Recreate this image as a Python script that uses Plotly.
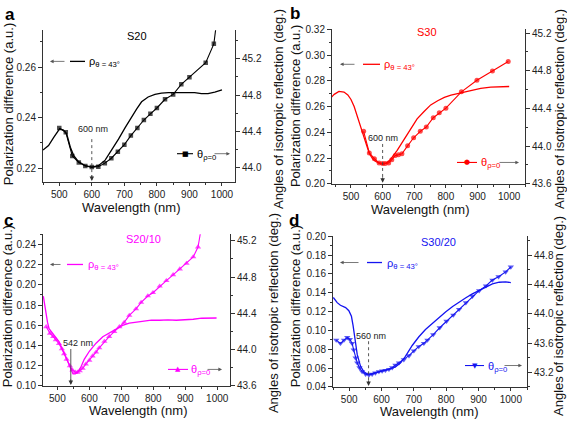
import plotly.graph_objects as go

W, H = 567, 424
FONT = "Arial, Liberation Sans, sans-serif"

# ---------------- data ----------------
a_rho_wl = [450, 467, 483, 501, 513, 523, 534, 544, 559, 580, 600, 620, 641, 661, 682, 702, 722, 738, 753, 773,
            794, 814, 835, 865, 896, 916, 937, 957, 978, 1000]
a_rho_val = [0.2272, 0.2290, 0.2322, 0.2356, 0.2351, 0.2335, 0.2283, 0.2251, 0.2226, 0.2210, 0.2204, 0.2210,
             0.2232, 0.2271, 0.2315, 0.2360, 0.2405, 0.2435, 0.2463, 0.2482, 0.2492, 0.2497, 0.2499, 0.2499,
             0.2500, 0.2499, 0.2495, 0.2495, 0.2501, 0.2510]
a_theta_wl = [500, 520, 540, 560, 580, 600, 620, 640, 660, 680, 700, 720, 740, 760, 780, 800, 825, 850, 875, 900,
              950, 975, 984]
a_theta_val = [44.438, 44.392, 44.132, 44.060, 44.021, 44.011, 44.014, 44.053, 44.107, 44.178, 44.256, 44.356,
               44.440, 44.527, 44.595, 44.659, 44.755, 44.808, 44.919, 44.997, 45.157, 45.364, 45.62]

b_rho_wl = [437, 447, 462, 478, 490, 500, 510, 521, 530, 540, 550, 558, 567, 576, 588, 600, 612, 625, 646, 668,
            688, 709, 731, 752, 774, 795, 816, 849, 879, 910, 942, 973, 1000]
b_rho_val = [0.2670, 0.2695, 0.2718, 0.2713, 0.2690, 0.2655, 0.2600, 0.2520, 0.2445, 0.2385, 0.2295, 0.2235,
             0.2200, 0.2178, 0.2160, 0.2152, 0.2160, 0.2190, 0.2260, 0.2345, 0.2425, 0.2505, 0.2562, 0.2613,
             0.2645, 0.2671, 0.2688, 0.2708, 0.2726, 0.2741, 0.2751, 0.2756, 0.2756]
b_theta_wl = [540, 558, 574, 589, 600, 608, 619, 629, 640, 650, 661, 679, 698, 719, 738, 760, 779, 800, 849, 898,
              947, 997]
b_theta_val = [44.157, 43.928, 43.867, 43.822, 43.815, 43.815, 43.822, 43.856, 43.900, 43.908, 43.918, 44.003,
               44.089, 44.157, 44.203, 44.302, 44.354, 44.403, 44.576, 44.699, 44.798, 44.899]

c_rho_wl = [456, 463, 469, 474, 490, 505, 521, 531, 542, 549, 556, 563, 573, 584, 600, 621, 642, 662, 683, 704,
            725, 746, 770, 794, 820, 846, 872, 898, 925, 951, 975, 998]
c_rho_val = [0.1888, 0.1743, 0.1631, 0.1567, 0.1503, 0.1439, 0.1327, 0.1247, 0.1167, 0.1119, 0.1119, 0.1135,
             0.1183, 0.1263, 0.1343, 0.1423, 0.1487, 0.1525, 0.1567, 0.1599, 0.1622, 0.1633, 0.1645, 0.1652,
             0.1650, 0.1654, 0.1650, 0.1654, 0.1660, 0.1670, 0.1668, 0.1672]
c_theta_wl = [465, 477, 487, 495, 505, 514, 521, 529, 539, 547, 556, 563, 570, 579, 589, 600, 610, 621, 631, 647,
              662, 678, 694, 709, 725, 746, 762, 783, 799, 820, 841, 862, 883, 904, 925, 940, 953]
c_theta_val = [44.251, 44.180, 44.144, 44.108, 44.065, 44.008, 43.954, 43.893, 43.822, 43.775, 43.750, 43.750,
               43.765, 43.793, 43.840, 43.883, 43.929, 43.972, 44.019, 44.090, 44.144, 44.198, 44.251, 44.300,
               44.377, 44.448, 44.520, 44.591, 44.627, 44.699, 44.760, 44.824, 44.888, 44.949, 45.021, 45.130,
               45.40]

d_rho_wl = [451, 463, 473, 489, 499, 507, 512, 518, 525, 535, 545, 556, 566, 581, 602, 623, 643, 659, 674, 695,
            715, 736, 758, 778, 799, 820, 840, 861, 881, 902, 922, 943, 964, 984, 1000]
d_rho_val = [0.1350, 0.1295, 0.1267, 0.1243, 0.1209, 0.1150, 0.1053, 0.0915, 0.0742, 0.0621, 0.0562, 0.0535,
             0.0535, 0.0552, 0.0569, 0.0587, 0.0611, 0.0656, 0.0725, 0.0840, 0.0930, 0.1010, 0.1077, 0.1140,
             0.1198, 0.1254, 0.1302, 0.1347, 0.1388, 0.1425, 0.1462, 0.1495, 0.1512, 0.1516, 0.1508]
d_theta_wl = [460, 473, 484, 494, 502, 509, 514, 520, 525, 532, 540, 551, 561, 571, 581, 592, 602, 612, 623, 633,
              643, 654, 669, 685, 700, 715, 731, 742, 760, 780, 801, 822, 840, 861, 881, 902, 923, 943, 962, 984,
              1000]
d_theta_val = [43.640, 43.596, 43.640, 43.676, 43.649, 43.596, 43.507, 43.396, 43.329, 43.262, 43.209, 43.173,
               43.164, 43.173, 43.191, 43.209, 43.218, 43.227, 43.240, 43.262, 43.298, 43.329, 43.373, 43.427,
               43.493, 43.551, 43.596, 43.640, 43.716, 43.809, 43.898, 43.982, 44.062, 44.151, 44.240, 44.316,
               44.382, 44.462, 44.507, 44.573, 44.640]

sample_names = ["S20", "S30", "S20/10", "S30/20"]
panel_letters = ["a", "b", "c", "d"]
mark_wl = [600, 600, 542, 560]
x_title = "Wavelength (nm)"
yl_title = "Polarization difference (a.u.)"
yr_title = "Angles of isotropic reflection (deg.)"
rho_label = "ρ<sub>θ = 43°</sub>"
theta_label = "θ<sub>ρ=0</sub>"

# ---------------- layout config ----------------
panels = [
    dict(color="#000000", dom_x=(43, 235), dom_y=(25, 181), xr=(450, 1040), yl=(0.2146, 0.2746),
         yr=(43.847, 45.513), rho=(a_rho_wl, a_rho_val), th=(a_theta_wl, a_theta_val), sym="square",
         msize=4.5, glyph="■", open_end=True, name_xy=(137, 31), mlab_xy=(92.5, 127), mark_top=137,
         mark_dash="dot", leg_l_y=57, arr_l=(50, 66), line_l=(70, 85), txt_l=87, leg_r_y=152,
         line_r=(177, 193), txt_r=195, arr_r=(213, 230), ytl=(8, 101), ytr=(278, 106), xt=(131, 207),
         letter_xy=(10, 9)),
    dict(color="#FF0000", dom_x=(332, 525), dom_y=(24, 183), xr=(440, 1050), yl=(0.20, 0.32),
         yr=(43.6, 45.24), rho=(b_rho_wl, b_rho_val), th=(b_theta_wl, b_theta_val), sym="circle",
         msize=5, glyph="●", open_end=False, name_xy=(427, 27), mlab_xy=(383, 136), mark_top=142,
         mark_dash="dot", leg_l_y=60, arr_l=(340, 356), line_l=(363, 380), txt_l=382, leg_r_y=161,
         line_r=(457, 477), txt_r=479, arr_r=(498, 519), ytl=(295, 103), ytr=(559, 106), xt=(420, 209),
         letter_xy=(295, 8)),
    dict(color="#FF00FF", dom_x=(43, 230), dom_y=(235, 391), xr=(455, 1040), yl=(0.10, 0.25),
         yr=(43.6, 45.27), rho=(c_rho_wl, c_rho_val), th=(c_theta_wl, c_theta_val), sym="triangle-up",
         msize=5.5, glyph="▲", open_end=True, name_xy=(143, 240), mlab_xy=(77.5, 347), mark_top=353,
         mark_dash="solid", leg_l_y=266, arr_l=(50, 62), line_l=(67, 83), txt_l=86, leg_r_y=374,
         line_r=(168, 188), txt_r=189, arr_r=(206, 222), ytl=(7, 309), ytr=(273, 316), xt=(138, 416),
         letter_xy=(8, 221)),
    dict(color="#1414F0", dom_x=(333, 527), dom_y=(237, 392), xr=(450, 1050), yl=(0.04, 0.20),
         yr=(43.0, 45.06), rho=(d_rho_wl, d_rho_val), th=(d_theta_wl, d_theta_val), sym="triangle-down",
         msize=5.5, glyph="▼", open_end=False, name_xy=(438, 243), mlab_xy=(371, 340), mark_top=345,
         mark_dash="dot", leg_l_y=264, arr_l=(340, 360), line_l=(367, 382), txt_l=385, leg_r_y=370,
         line_r=(465, 484), txt_r=486, arr_r=(503, 522), ytl=(295, 309), ytr=(559, 319), xt=(429, 417),
         letter_xy=(294, 221)),
]

AX = "#333333"
TICKFONT = dict(family=FONT, size=10, color="#222222")


def px(x):
    return x / W


def py(y):
    return 1 - y / H


fig = go.Figure()
layout = dict(width=W, height=H, margin=dict(l=0, r=0, t=0, b=0), paper_bgcolor="white",
              plot_bgcolor="white", showlegend=False, font=dict(family=FONT))
annotations = []
shapes = []

for i, p in enumerate(panels):
    n = i + 1
    xname = "x" if n == 1 else f"x{n}"
    yl_id = 2 * n - 1
    yr_id = 2 * n
    yl_name = "y" if yl_id == 1 else f"y{yl_id}"
    yr_name = f"y{yr_id}"
    xkey = "xaxis" if n == 1 else f"xaxis{n}"
    ylkey = "yaxis" if yl_id == 1 else f"yaxis{yl_id}"
    yrkey = f"yaxis{yr_id}"
    col = p["color"]

    layout[xkey] = dict(domain=[px(p["dom_x"][0]), px(p["dom_x"][1])], range=list(p["xr"]), anchor=yl_name,
                        showline=True, linecolor=AX, linewidth=1, ticks="outside", ticklen=3, tickcolor=AX,
                        dtick=100, tick0=0, showgrid=False, zeroline=False, tickfont=TICKFONT,
                        minor=dict(ticks="outside", ticklen=2, dtick=50, tick0=0, tickcolor=AX))
    layout[ylkey] = dict(domain=[py(p["dom_y"][1]), py(p["dom_y"][0])], range=list(p["yl"]), anchor=xname,
                         side="left", showline=True, linecolor=AX, linewidth=1, ticks="outside", ticklen=4,
                         tickcolor=AX, dtick=0.02, tick0=0, tickformat=".2f", showgrid=False, zeroline=False,
                         tickfont=TICKFONT,
                         minor=dict(ticks="outside", ticklen=2, dtick=0.01, tick0=0, tickcolor=AX))
    layout[yrkey] = dict(overlaying=yl_name, range=list(p["yr"]), anchor=xname, side="right", showline=True,
                         linecolor=AX, linewidth=1, ticks="outside", ticklen=4, tickcolor=AX, dtick=0.4,
                         tick0=0, tickformat=".1f", showgrid=False, zeroline=False, tickfont=TICKFONT,
                         minor=dict(ticks="outside", ticklen=2, dtick=0.2, tick0=0, tickcolor=AX))

    rx, rv = p["rho"]
    fig.add_trace(go.Scatter(x=rx, y=rv, mode="lines", line=dict(color=col, width=1.3),
                             xaxis=xname, yaxis=yl_name, hoverinfo="skip"))
    tx, tv = p["th"]
    sizes = [p["msize"]] * len(tx)
    if p["open_end"]:
        sizes[-1] = 0
    fig.add_trace(go.Scatter(x=tx, y=tv, mode="lines+markers", line=dict(color=col, width=1.1),
                             marker=dict(symbol=p["sym"], size=sizes, color=col, line=dict(width=0)),
                             xaxis=xname, yaxis=yr_name, hoverinfo="skip"))

    lx, ly = p["letter_xy"]
    annotations.append(dict(x=px(lx), y=py(ly), xref="paper", yref="paper", showarrow=False,
                            text=f"<b>{panel_letters[i]}</b>", font=dict(size=17, color="#000", family=FONT),
                            xanchor="center", yanchor="middle"))
    sx, sy = p["name_xy"]
    annotations.append(dict(x=px(sx), y=py(sy), xref="paper", yref="paper", showarrow=False,
                            text=sample_names[i], font=dict(size=11, color=col, family=FONT),
                            xanchor="center", yanchor="middle"))
    annotations.append(dict(x=px(p["ytl"][0]), y=py(p["ytl"][1]), xref="paper", yref="paper", showarrow=False,
                            text=yl_title, textangle=-90, font=dict(size=13, color="#111", family=FONT),
                            xanchor="center", yanchor="middle"))
    annotations.append(dict(x=px(p["ytr"][0]), y=py(p["ytr"][1]), xref="paper", yref="paper", showarrow=False,
                            text=yr_title, textangle=-90, font=dict(size=13, color="#111", family=FONT),
                            xanchor="center", yanchor="middle"))
    annotations.append(dict(x=px(p["xt"][0]), y=py(p["xt"][1]), xref="paper", yref="paper", showarrow=False,
                            text=x_title, font=dict(size=13, color="#111", family=FONT),
                            xanchor="center", yanchor="middle"))

    wl = mark_wl[i]
    bottom = p["dom_y"][1]
    shapes.append(dict(type="line", xref=xname, yref="paper", x0=wl, x1=wl, y0=py(p["mark_top"]),
                       y1=py(bottom - 3), line=dict(color="#444", width=0.9, dash=p["mark_dash"])))
    annotations.append(dict(x=wl, xref=xname, y=py(bottom - 1), yref="paper", ax=0, ay=-7, text="",
                            showarrow=True, arrowhead=2, arrowsize=1, arrowwidth=0.9, arrowcolor="#333"))
    annotations.append(dict(x=px(p["mlab_xy"][0]), y=py(p["mlab_xy"][1]), xref="paper", yref="paper",
                            showarrow=False, text=f"{wl} nm", font=dict(size=9, color="#222", family=FONT),
                            xanchor="center", yanchor="middle"))

    yl_ = p["leg_l_y"]
    a0, a1 = p["arr_l"]
    annotations.append(dict(x=px(a0), y=py(yl_), xref="paper", yref="paper", ax=a1 - a0, ay=0, text="",
                            showarrow=True, arrowhead=2, arrowsize=0.9, arrowwidth=0.8, arrowcolor="#555"))
    shapes.append(dict(type="line", xref="paper", yref="paper", x0=px(p["line_l"][0]), x1=px(p["line_l"][1]),
                       y0=py(yl_), y1=py(yl_), line=dict(color=col, width=1.3)))
    annotations.append(dict(x=px(p["txt_l"]), y=py(yl_ + 1), xref="paper", yref="paper", showarrow=False,
                            text=rho_label, font=dict(size=11, color=col, family=FONT),
                            xanchor="left", yanchor="middle"))

    yr_ = p["leg_r_y"]
    l0, l1 = p["line_r"]
    shapes.append(dict(type="line", xref="paper", yref="paper", x0=px(l0), x1=px(l1),
                       y0=py(yr_), y1=py(yr_), line=dict(color=col, width=1.1)))
    annotations.append(dict(x=px((l0 + l1) / 2), y=py(yr_), xref="paper", yref="paper", showarrow=False,
                            text=p["glyph"], font=dict(size=7, color=col, family="DejaVu Sans"),
                            xanchor="center", yanchor="middle"))
    annotations.append(dict(x=px(p["txt_r"]), y=py(yr_ + 1), xref="paper", yref="paper", showarrow=False,
                            text=theta_label, font=dict(size=11, color=col, family=FONT),
                            xanchor="left", yanchor="middle"))
    r0, r1 = p["arr_r"]
    annotations.append(dict(x=px(r1), y=py(yr_), xref="paper", yref="paper", ax=r0 - r1, ay=0, text="",
                            showarrow=True, arrowhead=2, arrowsize=0.9, arrowwidth=0.8, arrowcolor="#555"))

layout["annotations"] = annotations
layout["shapes"] = shapes
fig.update_layout(**layout)
fig.write_html("out.html", config={"displayModeBar": False},
               post_script="document.body.style.margin='0';document.body.style.padding='0';"
                           "document.body.style.overflow='hidden';")
